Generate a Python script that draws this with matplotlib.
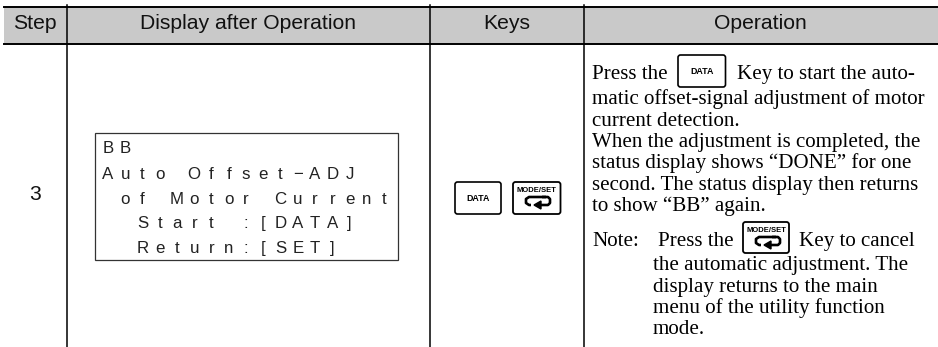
import matplotlib
matplotlib.use("Agg")
import matplotlib.pyplot as plt
from matplotlib.patches import FancyBboxPatch, Rectangle

W, H = 938, 347

headers = ["Step", "Display after Operation", "Keys", "Operation"]
header_x = [35, 248, 506.5, 760]
step = "3"
lcd_lines = ["BB", "Auto Offset\u2212ADJ", " of Motor Current", "  Start :[DATA]", "  Return:[SET]"]
lcd_base = [153, 179, 204, 228, 253]
body_lines = [
    ("Press the", 592, 79),
    ("Key to start the auto-", 737, 79),
    ("matic offset-signal adjustment of motor", 592, 104),
    ("current detection.", 592, 126),
    ("When the adjustment is completed, the", 592, 147),
    ("status display shows \u201cDONE\u201d for one", 592, 168),
    ("second. The status display then returns", 592, 190),
    ("to show \u201cBB\u201d again.", 592, 211),
    ("Note:", 592, 246),
    ("Press the", 658, 246),
    ("Key to cancel", 799, 246),
    ("the automatic adjustment. The", 653, 270),
    ("display returns to the main", 653, 292),
    ("menu of the utility function", 653, 313),
    ("mode.", 653, 334),
]
col_lines = [66.5, 429.5, 583.5]


def data_key(ax, x0, y0, w, h):
    ax.add_patch(FancyBboxPatch((x0 + 1.5, y0 + 1.5), w - 3, h - 3, boxstyle="round,pad=1.5,rounding_size=2.5",
                                fc="white", ec="black", lw=1.2, zorder=3))
    ax.text(x0 + w / 2, y0 + h / 2 + 0.2, "DATA", family="Liberation Sans", fontsize=6.4, ha="center", va="center",
            color="black", zorder=4, fontweight="bold")


def mode_key(ax, x0, y0, w, h):
    ax.add_patch(FancyBboxPatch((x0 + 1.5, y0 + 1.5), w - 3, h - 3, boxstyle="round,pad=1.5,rounding_size=2.5",
                                fc="white", ec="black", lw=1.3, zorder=3))
    ax.text(x0 + w / 2, y0 + 8, "MODE/SET", family="Liberation Sans", fontsize=5.5, ha="center", va="center",
            color="black", zorder=4, fontweight="bold")
    # return arrow
    ax.plot([x0 + 33, x0 + 16, x0 + 13, x0 + 13, x0 + 16, x0 + 18], [y0 + 15, y0 + 15, y0 + 17, y0 + 21, y0 + 23, y0 + 23],
            color="black", lw=1.9, zorder=4, solid_capstyle="butt")
    ax.plot([x0 + 29, x0 + 35, x0 + 37, x0 + 37, x0 + 35, x0 + 25], [y0 + 15, y0 + 15, y0 + 17, y0 + 21, y0 + 23, y0 + 23],
            color="black", lw=1.9, zorder=4, solid_capstyle="butt")
    ax.fill([x0 + 21, x0 + 28, x0 + 28], [y0 + 23, y0 + 19, y0 + 27], color="black", zorder=4)


fig = plt.figure(figsize=(W / 100, H / 100), dpi=100)
ax = fig.add_axes([0, 0, 1, 1])
ax.set_xlim(0, W)
ax.set_ylim(H, 0)
ax.axis("off")

# header band and rules
ax.add_patch(Rectangle((4, 7), W - 4, 36.5, fc="#c9c9c9", ec="none", zorder=1))
ax.plot([4, W], [7, 7], color="black", lw=1.4, zorder=2)
ax.plot([4, W], [43.5, 43.5], color="black", lw=1.4, zorder=2)
for x in col_lines:
    ax.plot([x, x], [5, 347], color="black", lw=1.1, zorder=2)

for name, x in zip(headers, header_x):
    ax.text(x, 29, name, family="Liberation Sans", fontsize=15.2, ha="center", va="baseline", color="#111111")
ax.text(35, 200, step, family="Liberation Sans", fontsize=15.2, ha="center", va="baseline", color="#111111")

# display box, characters sit on a fixed grid
ax.add_patch(Rectangle((94.5, 132.5), 303, 127.5, fc="white", ec="#333333", lw=0.9, zorder=2))
for line, y in zip(lcd_lines, lcd_base):
    for i, ch in enumerate(line):
        if ch != " ":
            ax.text(108 + i * 17.25, y, ch, family="Liberation Sans", fontsize=12.2, ha="center", va="baseline",
                    color="#222222")

data_key(ax, 455, 182, 46, 32)
mode_key(ax, 513, 182, 47.5, 32)
data_key(ax, 678, 55, 47.5, 32)
mode_key(ax, 743, 222, 46, 31)

for txt, x, y in body_lines:
    ax.text(x, y, txt, family="Liberation Serif", fontsize=15.1, ha="left", va="baseline", color="black")

fig.savefig("out.png", dpi=100)
